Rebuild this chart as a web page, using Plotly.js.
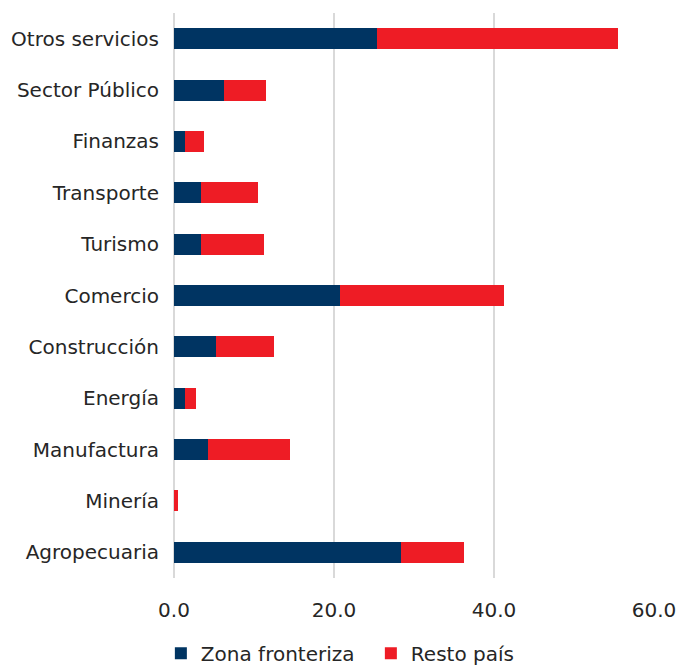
<!DOCTYPE html>
<html><head><meta charset="utf-8">
<script src="https://cdn.plot.ly/plotly-3.0.1.min.js"></script>
<style>html,body{margin:0;padding:0;background:#fff;}#chart{width:678px;height:667px;}</style>
</head><body><div id="chart"></div>
<script>
const categories = ["Agropecuaria","Minería","Manufactura","Energía","Construcción","Comercio","Turismo","Transporte","Finanzas","Sector Público","Otros servicios"];
const zonaFronteriza = [28.4, 0.0, 4.2, 1.4, 5.2, 20.8, 3.4, 3.4, 1.4, 6.2, 25.4];
const restoPais = [7.8, 0.5, 10.3, 1.4, 7.3, 20.4, 7.8, 7.1, 2.4, 5.3, 30.1];
const tickVals = [0, 20, 40, 60];

const font = "'DejaVu Sans', sans-serif";
const col = '#262626';
const data = [
  {type:'bar', orientation:'h', name:'Zona fronteriza', y:categories, x:zonaFronteriza,
   marker:{color:'#003462', line:{width:0}}},
  {type:'bar', orientation:'h', name:'Resto país', y:categories, x:restoPais,
   marker:{color:'#EE1C25', line:{width:0}}}
];
const layout = {
  width:678, height:667, barmode:'stack', bargap:0.59,
  paper_bgcolor:'#fff', plot_bgcolor:'#fff',
  margin:{l:174, r:24, t:13, b:89, autoexpand:false},
  font:{family:font, size:20, color:col},
  xaxis:{range:[0,60], tickvals:tickVals, tickformat:'.1f', showgrid:true, gridcolor:'#d9d9d9', gridwidth:1.5,
         zeroline:true, zerolinecolor:'#d9d9d9', zerolinewidth:1.5, showline:false, ticks:'', ticklabelstandoff:18,
         automargin:false, tickfont:{family:font, size:20, color:col}, fixedrange:true},
  yaxis:{type:'category', categoryorder:'array', categoryarray:categories, showgrid:false, zeroline:false, automargin:false,
         showline:false, ticks:'', ticklabelstandoff:14, tickfont:{family:font, size:20, color:col}},
  showlegend:true,
  legend:{orientation:'h', xref:'container', yref:'container', x:0.547, xanchor:'center', y:0.05, yanchor:'top',
          font:{family:font, size:20, color:col}, traceorder:'normal', itemwidth:30,
          entrywidth:165, entrywidthmode:'pixels'}
};
Plotly.newPlot('chart', data, layout, {displayModeBar:false, staticPlot:true});
</script></body></html>
